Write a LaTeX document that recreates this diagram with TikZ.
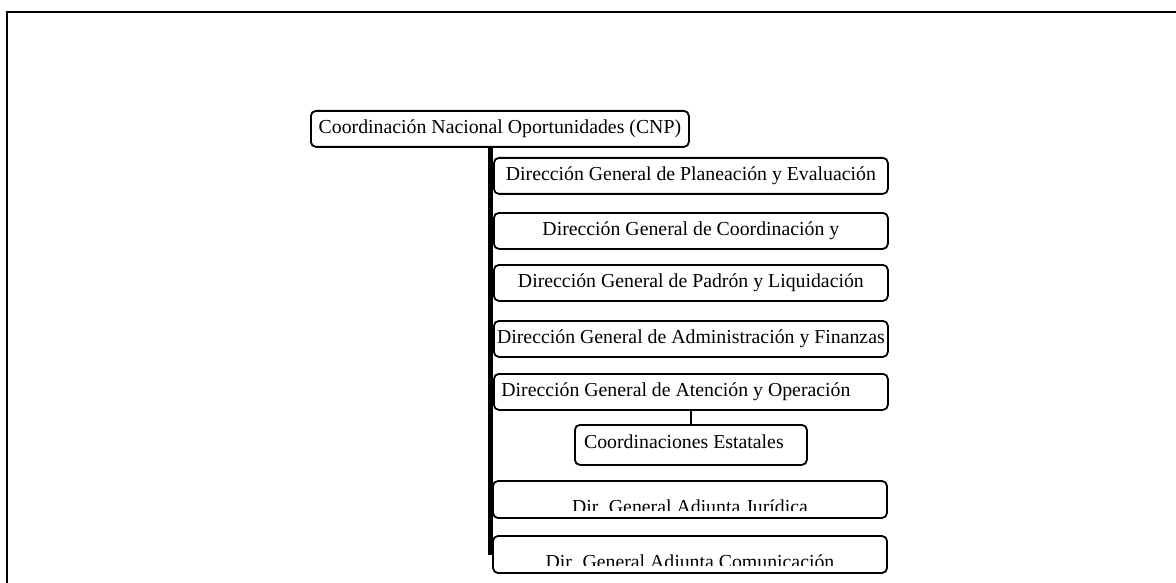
\documentclass[tikz,border=0pt]{standalone}
\usepackage{fontspec}
\setmainfont{Liberation Serif}

\begin{document}
\begin{tikzpicture}[x=1pt,y=-1pt,
  orgbox/.style={draw,rounded corners=5pt,line width=1.8pt,minimum width=394pt,
    minimum height=36pt,inner sep=0pt,anchor=north west,font=\fontsize{19.8}{22}\selectfont},
  cliptext/.style={inner sep=0pt,anchor=base,font=\fontsize{19.8}{22}\selectfont}]
  \useasboundingbox (0,0) rectangle (1176,583);
  \draw[line width=2pt] (7,583) -- (7,12) -- (1176,12);
  \node[orgbox,minimum width=378pt,inner xsep=2pt] (cnp) at (310,110) {Coordinación Nacional Oportunidades (CNP)};
  \coordinate (spineend) at (490,555);
  \draw[line width=5pt] (cnp.south -| spineend) -- (spineend);
  \foreach \j/\y/\t in {1/157/{Dirección General de Planeación y Evaluación},
      2/212/{Dirección General de Coordinación y},
      3/264/{Dirección General de Padrón y Liquidación},
      4/320/{Dirección General de Administración y Finanzas},
      5/373/{Dirección General de Atención y Operación\kern30pt}}
    \node[orgbox,fill=white] (d\j) at (493,\y) {\t};
  \node[orgbox,minimum width=232pt,minimum height=40pt,text depth=7pt] (ce) at (574,424) {Coordinaciones Estatales\kern14pt};
  \draw[line width=1.8pt] (d5.south) -- (ce.north);
  % last two boxes: text cut at the bottom
  \foreach \j/\y/\t in {6/481/{Dir. General Adjunta Jurídica},7/536/{Dir. General Adjunta Comunicación}} {
    \coordinate (a\j) at (493,\y);
    \coordinate (b\j) at (887,\y+37);
    \begin{scope}
      \clip (a\j) rectangle (887,\y+29);
      \node[cliptext] (t\j) at (690,\y+32) {\t};
    \end{scope}
    \draw[line width=1.8pt,rounded corners=5pt,fill=none] (a\j) rectangle (b\j);
  }
\end{tikzpicture}
\end{document}
